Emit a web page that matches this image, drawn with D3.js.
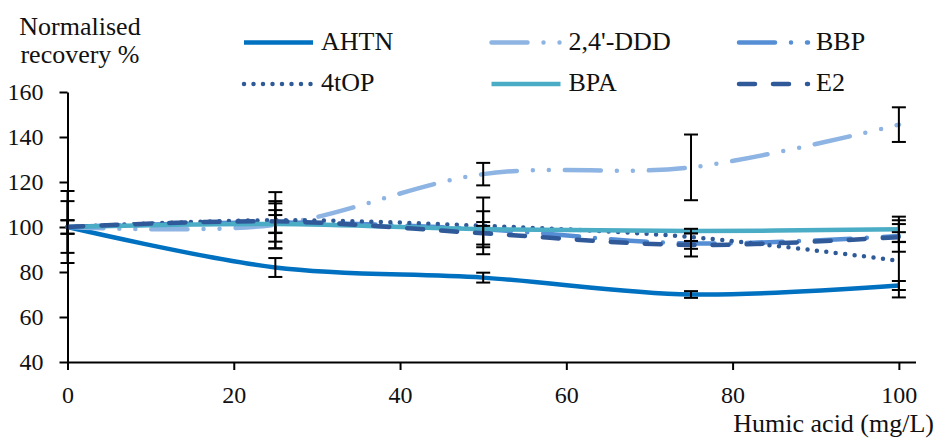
<!DOCTYPE html>
<html>
<head>
<meta charset="utf-8">
<script src="https://cdn.jsdelivr.net/npm/d3@7"></script>
<style>
  body { margin: 0; background: #fff; }
</style>
</head>
<body>
<div id="chart"></div>
<script>
// Humic acid effect on recovery

const width = 942;
const height = 440;
const font = "Liberation Serif";

// data
const doses = [0, 25, 50, 75, 100];
const seriesNames = ["AHTN", "2,4'-DDD", "BBP", "4tOP", "BPA", "E2"];
const ahtn = [100, 82, 77.5, 70, 74];
const ddd = [100, 101, 123.5, 126.5, 145.5];
const bbp = [100, 102, 99, 92.7, 96];
const top4 = [100, 103, 100.5, 95.5, 85];
const bpa = [100, 101.3, 99, 98.2, 99];
const e2 = [100, 102.5, 97.2, 92, 95.5];
// error (±)
const ahtnErr = [3, 4.2, 2.2, 1.5, 2];
const dddErr = [0, 10.5, 5, 14.6, 7.7];
const bbpErr = [11.5, 8.5, 8, 5.8, 7];
const top4Err = [16, 12.5, 12.6, 1.7, 16.3];
const bpaErr = [0, 4, 1.5, 1, 5.6];
const e2Err = [3, 5, 5, 1.7, 2.2];
const yTicks = [40, 60, 80, 100, 120, 140, 160];
const xTicks = [0, 20, 40, 60, 80, 100];

const series = [
  { name: seriesNames[0], values: ahtn, err: ahtnErr, color: "#0070C0", dash: null, cap: "butt" },
  { name: seriesNames[1], values: ddd, err: dddErr, color: "#8DB4E2", dash: "36,16,0,16,0,16", cap: "round" },
  { name: seriesNames[2], values: bbp, err: bbpErr, color: "#558ED5", dash: "36,16,0,16", cap: "round" },
  { name: seriesNames[3], values: top4, err: top4Err, color: "#2F5A98", dash: "0,9.5", cap: "round" },
  { name: seriesNames[4], values: bpa, err: bpaErr, color: "#4BACC6", dash: null, cap: "butt" },
  { name: seriesNames[5], values: e2, err: e2Err, color: "#30599A", dash: "16,18", cap: "round" }
];

const svg = d3.select("#chart").append("svg")
  .attr("width", width)
  .attr("height", height)
  .attr("font-family", font);

const x = d3.scaleLinear().domain([0, 102]).range([67.5, 915.5]);
const y = d3.scaleLinear().domain([40, 160]).range([362, 92]);

// axes
const xAxis = svg.append("g")
  .attr("transform", `translate(0,${y(40)})`)
  .call(d3.axisBottom(x).tickValues(xTicks).tickSize(8).tickPadding(16).tickSizeOuter(0))
  .attr("font-family", font).attr("font-size", 24);
xAxis.select(".domain").attr("stroke", "#000").attr("stroke-width", 2);
xAxis.selectAll(".tick line").attr("stroke", "#000").attr("stroke-width", 2);
xAxis.selectAll(".tick text").attr("fill", "#111");

const yAxis = svg.append("g")
  .attr("transform", `translate(${x(0)},0)`)
  .call(d3.axisLeft(y).tickValues(yTicks).tickSize(8).tickPadding(16).tickSizeOuter(0))
  .attr("font-family", font).attr("font-size", 24);
yAxis.select(".domain").attr("stroke", "#000").attr("stroke-width", 2);
yAxis.selectAll(".tick line").attr("stroke", "#000").attr("stroke-width", 2);
yAxis.selectAll(".tick text").attr("fill", "#111");

// lines + error bars
const line = d3.line()
  .x((d, i) => x(doses[i]))
  .y(d => y(d))
  .curve(d3.curveCardinal.tension(0));

const plot = svg.append("g");
series.forEach(s => {
  plot.append("path")
    .attr("d", line(s.values))
    .attr("fill", "none")
    .attr("stroke", s.color)
    .attr("stroke-width", 4.5)
    .attr("stroke-linecap", s.cap)
    .attr("stroke-dasharray", s.dash);

  const bars = plot.append("g").attr("stroke", "#000").attr("stroke-width", 2);
  s.values.forEach((v, i) => {
    const e = s.err[i];
    if (!e) return;
    const cx = x(doses[i]);
    bars.append("line").attr("x1", cx).attr("x2", cx).attr("y1", y(v - e)).attr("y2", y(v + e));
    bars.append("line").attr("x1", cx - 7).attr("x2", cx + 7).attr("y1", y(v - e)).attr("y2", y(v - e));
    bars.append("line").attr("x1", cx - 7).attr("x2", cx + 7).attr("y1", y(v + e)).attr("y2", y(v + e));
  });
});

// legend
const legend = svg.append("g").attr("font-size", 26).attr("fill", "#111");
series.forEach((s, i) => {
  const lx = 244 + (i % 3) * 247.5;
  const ly = 42.5 + Math.floor(i / 3) * 41.5;
  legend.append("line")
    .attr("x1", lx).attr("x2", lx + 69)
    .attr("y1", ly).attr("y2", ly)
    .attr("stroke", s.color)
    .attr("stroke-width", 4.5)
    .attr("stroke-linecap", s.cap)
    .attr("stroke-dasharray", s.dash);
  legend.append("text")
    .attr("x", lx + 77).attr("y", ly + 7)
    .text(s.name);
});

// axis titles
const title = (tx, ty, anchor, txt) => svg.append("text")
  .attr("x", tx).attr("y", ty).attr("text-anchor", anchor)
  .attr("font-size", 26).attr("fill", "#111").text(txt);
title(80, 35, "middle", "Normalised");
title(80, 63, "middle", "recovery %");
title(934, 432, "end", "Humic acid (mg/L)");
</script>
</body>
</html>
